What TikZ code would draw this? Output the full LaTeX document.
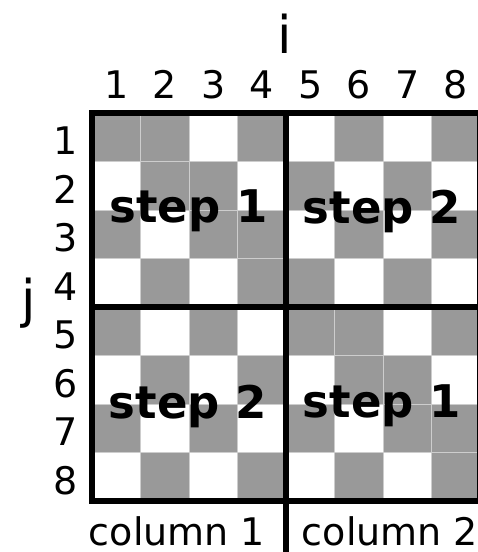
\documentclass[tikz,border=0pt]{standalone}
\usepackage{fontspec}
\setmainfont{DejaVu Sans}
\definecolor{cellgray}{RGB}{153,153,153}
\definecolor{seam}{RGB}{205,205,205}
\begin{document}
\begin{tikzpicture}[x=1pt,y=-1pt,
  lab/.style={font=\fontsize{38}{40}\selectfont, inner sep=0pt, anchor=base},
  axis/.style={font=\fontsize{52}{54}\selectfont, inner sep=0pt, anchor=base},
  steplab/.style={font=\fontsize{45}{47}\selectfont\bfseries, inner sep=0pt, anchor=base},
  cell/.style={fill=cellgray, draw=seam, line width=0.8pt},
  thick border/.style={line width=6pt}]
\useasboundingbox (0,0) rectangle (478,552);
\clip (0,0) rectangle (478,552);
\fill[white] (0,0) rectangle (478,552);
% gray cells (column/row)
\foreach \c/\r in {1/1,2/1,4/1, 2/2,3/2, 1/3,3/3,4/3, 2/4,4/4,
                   6/1,8/1, 5/2,7/2, 6/3,8/3, 5/4,7/4,
                   1/5,3/5, 2/6,4/6, 1/7,3/7, 2/8,4/8,
                   5/5,6/5,8/5, 6/6,7/6, 5/7,7/7,8/7, 6/8,8/8}
  \path[cell] ({92+(\c-1)*48.5},{113+(\r-1)*48.5}) rectangle ++(48.5,48.5);
% borders
\draw[thick border] (92,113) rectangle (480,501);
\draw[thick border] (92,307) -- (480,307);
\draw[thick border] (286,113) -- (286,560);
% axis labels
\node[axis] (ilab) at (285,53) {i};
\node[axis] (jlab) at (29,317) {j};
% column numbers
\foreach \k in {1,...,8}
  \node[lab] (col\k) at ({92+(\k-0.5)*48.5},98) {\k};
% row numbers
\foreach \k in {1,...,8}
  \node[lab] (row\k) at (66,{113+(\k-0.5)*48.5+17.5}) {\k};
% step labels
\node[steplab] (s11) at (188.5,222) {step 1};
\node[steplab] (s12) at (382,223) {step 2};
\node[steplab] (s21) at (188,418) {step 2};
\node[steplab] (s22) at (382,417) {step 1};
% bottom labels
\node[lab] (c1) at (177,545) {column 1};
\node[lab] (c2) at (390,545) {column 2};
\end{tikzpicture}
\end{document}
